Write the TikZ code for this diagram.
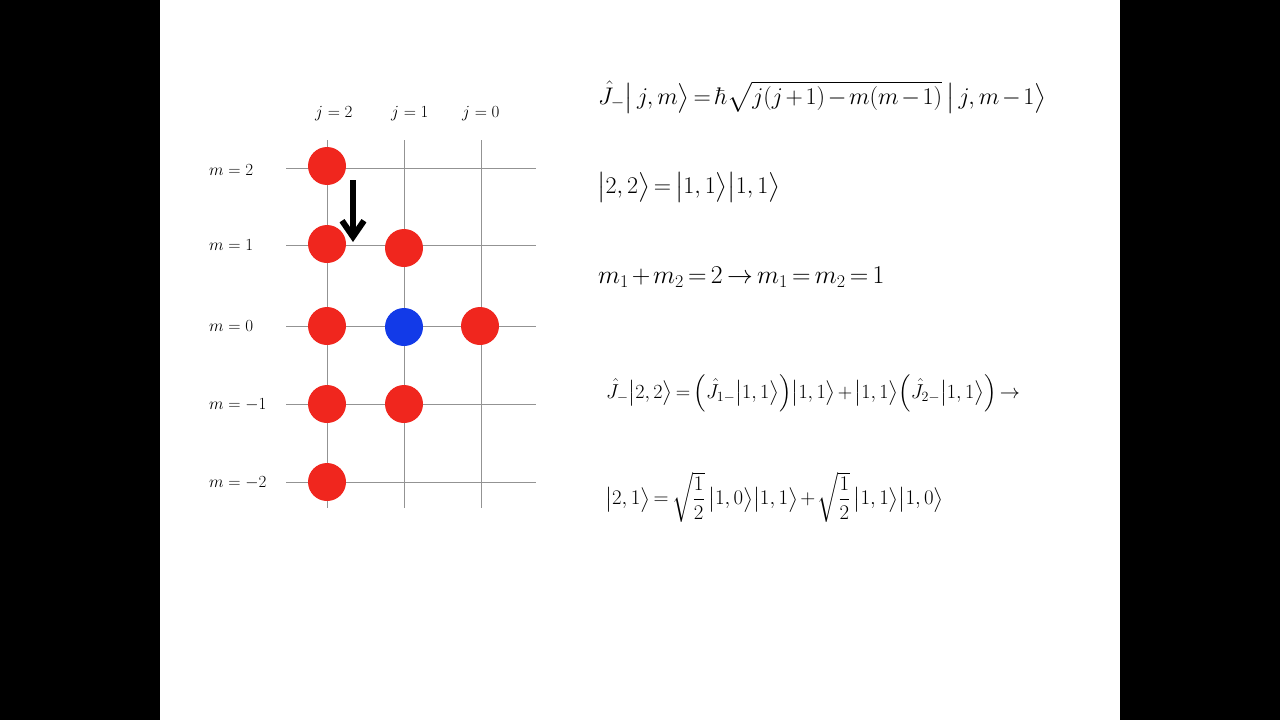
\RequirePackage{fix-cm}
\documentclass[tikz,border=0pt]{standalone}
\usepackage{amsmath}
\usepackage{tikz}
\usetikzlibrary{arrows.meta}

\definecolor{dotred}{RGB}{240,38,30}
\definecolor{dotblue}{RGB}{18,58,232}

\newcommand{\tightmath}{\thickmuskip=3mu\medmuskip=2mu}

\begin{document}
\begin{tikzpicture}[x=1pt,y=-1pt,
  dot/.style={circle,fill=dotred,minimum size=38pt,inner sep=0pt},
  lbl/.style={anchor=west,inner sep=0pt,font=\fontsize{17}{20}\selectfont},
  eq/.style={anchor=west,inner sep=0pt,font=\fontsize{24}{30}\selectfont\tightmath},
  eqsmall/.style={anchor=west,inner sep=0pt,font=\fontsize{20.1}{26}\selectfont\tightmath},
  gridline/.style={draw=gray!85,line width=0.9pt}]
  % slide and black margins
  \fill[black] (0,0) rectangle (1280,720);
  \fill[white] (160,0) rectangle (1120,720);
  \useasboundingbox (0,0) rectangle (1280,720);

  % grid
  \foreach \yy in {168,245,326,404,482}
    \draw[gridline] (286,\yy) -- (536,\yy);
  \draw[gridline] (327,140) -- (327,508);
  \draw[gridline] (404,140) -- (404,508);
  \draw[gridline] (481,140) -- (481,508);

  % column and row labels
  \node[lbl] (j2) at (315,114) {$j=2$};
  \node[lbl] (j1) at (391,114) {$j=1$};
  \node[lbl] (j0) at (462,114) {$j=0$};
  \node[lbl] (m2) at (209,170) {$m=2$};
  \node[lbl] (m1) at (209,245) {$m=1$};
  \node[lbl] (m0) at (209,326) {$m=0$};
  \node[lbl] (mm1) at (209,405) {$m=-1$};
  \node[lbl] (mm2) at (209,483) {$m=-2$};

  % states
  \node[dot] (s22) at (327,166) {};
  \node[dot] (s21) at (327,244) {};
  \node[dot] (s11) at (404,248) {};
  \node[dot] (s20) at (327,326) {};
  \node[dot,fill=dotblue] (s10) at (404,327) {};
  \node[dot] (s00) at (480,326) {};
  \node[dot] (s2m1) at (327,404) {};
  \node[dot] (s1m1) at (404,404) {};
  \node[dot] (s2m2) at (327,482) {};

  % lowering step
  \coordinate (lowtop) at (353,180);
  \coordinate (lowbot) at (353,242);
  \draw[line width=6pt,-{Straight Barb[length=16pt,width=22pt]}] (lowtop) -- (lowbot);

  % equations
  \node[eq] (eqlow) at (598,97)
    {$\hat{J}_-\bigl|\,j,m\bigr\rangle=\hbar\sqrt{j(j+1)-m(m-1)}\,\bigl|\,j,m-1\bigr\rangle$};
  \node[eq] (eqtop) at (597,187)
    {$\bigl|2,2\bigr\rangle=\bigl|1,1\bigr\rangle\bigl|1,1\bigr\rangle$};
  \node[eq,font=\fontsize{25.7}{32}\selectfont\tightmath] (eqsum) at (598,277)
    {$m_1+m_2=2\rightarrow m_1=m_2=1$};
  \node[eqsmall] (eqact) at (606,393)
    {$\hat{J}_-\bigl|2,2\bigr\rangle=\Bigl(\hat{J}_{1-}\bigl|1,1\bigr\rangle\Bigr)\bigl|1,1\bigr\rangle+\bigl|1,1\bigr\rangle\Bigl(\hat{J}_{2-}\bigl|1,1\bigr\rangle\Bigr)\rightarrow$};
  \node[eqsmall,font=\fontsize{20.8}{26}\selectfont\tightmath] (eqres) at (605,497)
    {$\bigl|2,1\bigr\rangle=\sqrt{\dfrac{1}{2}}\,\bigl|1,0\bigr\rangle\bigl|1,1\bigr\rangle+\sqrt{\dfrac{1}{2}}\,\bigl|1,1\bigr\rangle\bigl|1,0\bigr\rangle$};
\end{tikzpicture}
\end{document}
